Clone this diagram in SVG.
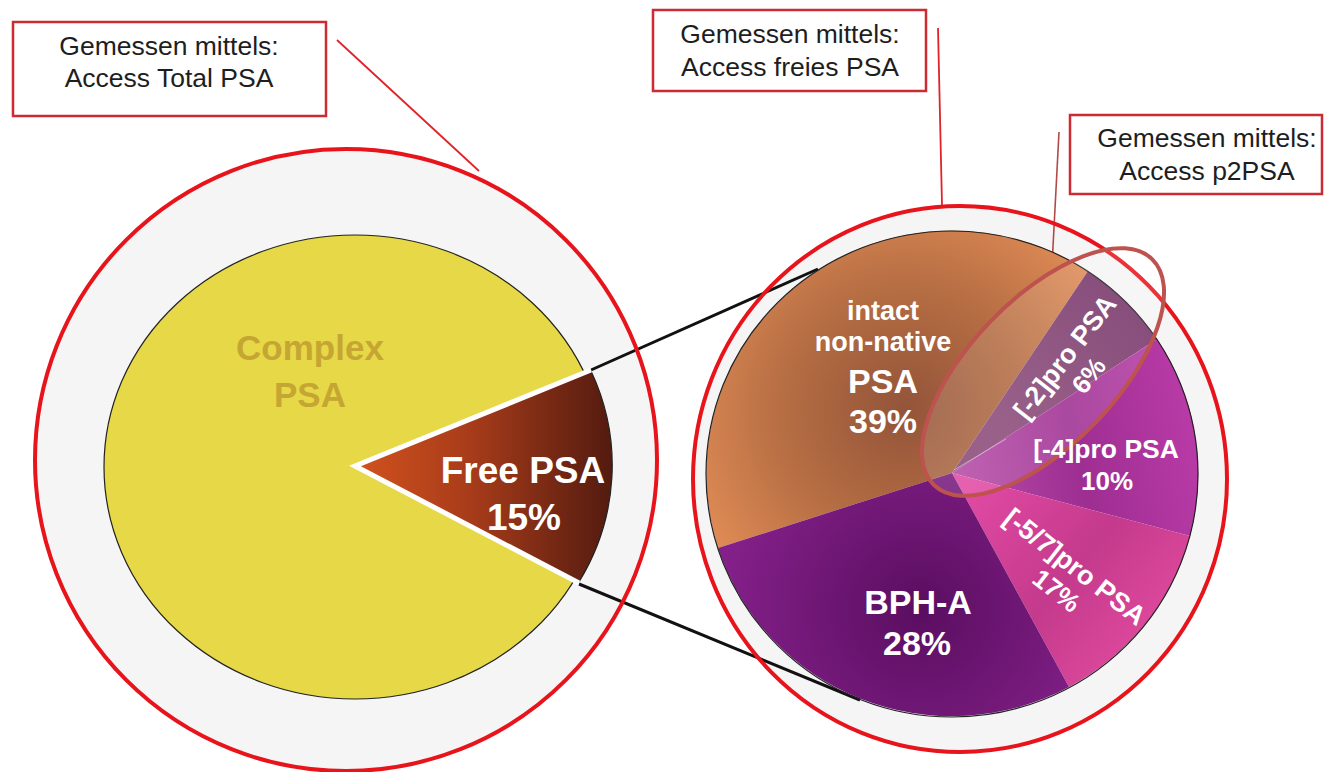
<svg xmlns="http://www.w3.org/2000/svg" width="1325" height="772" viewBox="0 0 1325 772">
<defs>
<style>
.box{fill:#ffffff;stroke:#cc2b33;stroke-width:2.5}
.boxt{font-family:"Liberation Sans",Arial,sans-serif;font-size:26.5px;fill:#1e1e1e;text-anchor:middle}
.lbl{font-family:"Liberation Sans",Arial,sans-serif;font-weight:bold;fill:#ffffff;text-anchor:middle}
.ring{fill:none;stroke:#e8141c;stroke-width:4}
.halo{fill:#f5f5f5;stroke:none}
.lead{fill:none;stroke:#e0242a;stroke-width:1.8}
.conn{fill:none;stroke:#111111;stroke-width:3}
.edge{fill:none;stroke:#222222;stroke-width:1.2}
</style>
<linearGradient id="gFree" x1="355" y1="0" x2="608" y2="0" gradientUnits="userSpaceOnUse">
<stop offset="0" stop-color="#d2521e"/>
<stop offset="0.45" stop-color="#a83c1a"/>
<stop offset="1" stop-color="#561c10"/>
</linearGradient>
<radialGradient id="gOrange" cx="905" cy="410" r="260" gradientUnits="userSpaceOnUse">
<stop offset="0" stop-color="#93543a"/>
<stop offset="0.45" stop-color="#b46c42"/>
<stop offset="1" stop-color="#ea935a"/>
</radialGradient>
<radialGradient id="gBPH" cx="920" cy="610" r="200" gradientUnits="userSpaceOnUse">
<stop offset="0" stop-color="#5a0e60"/>
<stop offset="1" stop-color="#84208a"/>
</radialGradient>
<linearGradient id="gP2" x1="1000" y1="420" x2="1130" y2="300" gradientUnits="userSpaceOnUse">
<stop offset="0" stop-color="#8a4a78"/>
<stop offset="1" stop-color="#763469"/>
</linearGradient>
<linearGradient id="gP4" x1="960" y1="470" x2="1190" y2="420" gradientUnits="userSpaceOnUse">
<stop offset="0" stop-color="#b54aa6"/>
<stop offset="0.5" stop-color="#9e2e92"/>
<stop offset="1" stop-color="#b83aa6"/>
</linearGradient>
<linearGradient id="gP57" x1="970" y1="480" x2="1160" y2="640" gradientUnits="userSpaceOnUse">
<stop offset="0" stop-color="#e24aa4"/>
<stop offset="0.55" stop-color="#c43a8c"/>
<stop offset="1" stop-color="#e04a9e"/>
</linearGradient>
</defs>
<rect x="0" y="0" width="1325" height="772" fill="#ffffff"/>

<g id="total-halo">
<circle class="halo" cx="346" cy="460" r="311"/>
</g>
<g id="free-halo">
<ellipse class="halo" cx="960" cy="479" rx="267" ry="273"/>
</g>

<g id="connectors">
<line class="conn" x1="591" y1="370" x2="818" y2="269"/>
<line class="conn" x1="579" y1="584" x2="860" y2="700"/>
<line class="lead" x1="337" y1="40" x2="479" y2="171"/>
<line class="lead" x1="938" y1="28" x2="942" y2="205"/>
<line x1="1059" y1="132" x2="1052" y2="266" style="fill:none;stroke:#b24a48;stroke-width:1.6"/>
</g>

<g id="total-ring">
<circle class="ring" cx="346" cy="460" r="311"/>
</g>
<g id="free-ring">
<ellipse class="ring" cx="960" cy="479" rx="267" ry="273"/>
</g>

<g id="complex-psa">
<ellipse cx="355" cy="467" rx="251" ry="232" fill="#e6d846" stroke="#222" stroke-width="1.2"/>
<text class="lbl" x="310" y="360" font-size="35" style="fill:#c6a633">Complex</text>
<text class="lbl" x="310" y="407" font-size="35" style="fill:#c6a633">PSA</text>
</g>

<g id="free-psa">
<path d="M355 466 L591 371 A252 235 0 0 1 579 582 Z" fill="url(#gFree)"/>
<path d="M591 371 A252 235 0 0 1 579 582" class="edge"/>
<path d="M591 370 L355 466 L579 583" fill="none" stroke="#ffffff" stroke-width="5" stroke-linejoin="miter"/>
<text class="lbl" x="523" y="483" font-size="37">Free PSA</text>
<text class="lbl" x="524" y="530" font-size="37">15%</text>
</g>

<g id="intact-psa">
<path d="M952 473 L718 548 A246 243 0 0 1 1088 271 Z" fill="url(#gOrange)"/>
<text class="lbl" x="883" y="320" font-size="27">intact</text>
<text class="lbl" x="883" y="351" font-size="27">non-native</text>
<text class="lbl" x="883" y="393" font-size="34">PSA</text>
<text class="lbl" x="883" y="433" font-size="34">39%</text>
</g>
<g id="p2psa-slice">
<path d="M952 473 L1088 271 A246 243 0 0 1 1157 339 Z" fill="url(#gP2)"/>
</g>
<g id="p4psa-slice">
<path d="M952 473 L1157 339 A246 243 0 0 1 1190 536 Z" fill="url(#gP4)"/>
<line x1="954" y1="470" x2="1006" y2="439" stroke="#ffffff" stroke-opacity="0.45" stroke-width="1"/>
</g>
<g id="p57psa-slice">
<path d="M952 473 L1190 536 A246 243 0 0 1 1069 687 Z" fill="url(#gP57)"/>
</g>
<g id="bph-a">
<path d="M952 473 L1069 687 A246 243 0 0 1 718 548 Z" fill="url(#gBPH)"/>
<text class="lbl" x="918" y="614" font-size="34">BPH-A</text>
<text class="lbl" x="917" y="655" font-size="34">28%</text>
</g>
<g id="free-pie-outline">
<ellipse class="edge" cx="952" cy="474" rx="246" ry="243"/>
</g>

<g id="p2psa-marker">
<ellipse cx="1043" cy="372" rx="157" ry="73" transform="rotate(-46 1043 372)" fill="#ffffff" fill-opacity="0.13" stroke="#bd524e" stroke-width="4"/>
</g>

<g id="slice-labels">
<g transform="translate(1065 357) rotate(-52)">
<text class="lbl" x="0" y="9" font-size="27">[-2]pro PSA</text>
<text class="lbl" x="0" y="39" font-size="26">6%</text>
</g>
<text class="lbl" x="1106" y="458" font-size="26.5">[-4]pro PSA</text>
<text class="lbl" x="1107" y="490" font-size="26">10%</text>
<g transform="translate(1075 567) rotate(38)">
<text class="lbl" x="0" y="9" font-size="27">[-5/7]pro PSA</text>
<text class="lbl" x="0" y="39" font-size="26">17%</text>
</g>
</g>

<g id="box-total">
<rect class="box" x="13" y="22" width="313" height="94"/>
<text class="boxt" x="169" y="55">Gemessen mittels:</text>
<text class="boxt" x="169" y="87">Access Total PSA</text>
</g>
<g id="box-free">
<rect class="box" x="653" y="10" width="273" height="81"/>
<text class="boxt" x="790" y="43">Gemessen mittels:</text>
<text class="boxt" x="790" y="76">Access freies PSA</text>
</g>
<g id="box-p2psa">
<rect class="box" x="1070" y="115" width="252" height="79"/>
<text class="boxt" x="1207" y="147">Gemessen mittels:</text>
<text class="boxt" x="1207" y="180">Access p2PSA</text>
</g>
</svg>
